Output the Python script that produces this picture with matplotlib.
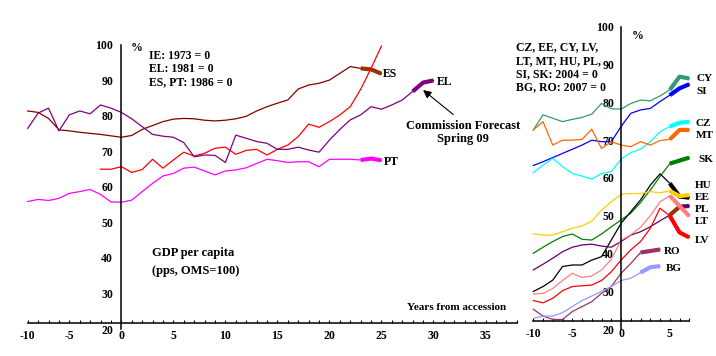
import numpy as np
import matplotlib
matplotlib.use("Agg")
import matplotlib.pyplot as plt
from matplotlib.ticker import MultipleLocator

plt.rcParams['font.family'] = ['Liberation Serif', 'DejaVu Serif']
plt.rcParams['font.weight'] = 'bold'
plt.rcParams['font.size'] = 8.5

# ---- old members (years from accession, first point at -9 on the axis) ----
old_start = -9
ie_start = -2
es = [81.4, 81.0, 79.3, 76.1, 75.8, 75.4, 75.1, 74.8, 74.4, 74.0, 74.5, 76.2,
      77.3, 78.4, 79.1, 79.3, 79.2, 78.8, 78.6, 78.8, 79.2, 79.9, 81.4, 82.6,
      83.6, 84.5, 87.6, 88.7, 89.2, 90.1, 92.0, 93.9, 93.4, 93.1, 91.9]
ie = [65.0, 65.0, 65.7, 64.1, 64.9, 67.8, 65.3, 67.6, 69.8, 68.7, 69.5, 70.9,
      71.2, 69.2, 70.3, 70.6, 69.0, 70.6, 71.8, 74.2, 77.7, 76.8, 78.4, 80.3,
      82.6, 87.5, 93.4, 99.7]
el = [76.5, 80.8, 82.2, 75.8, 80.3, 81.4, 80.6, 83.1, 82.2, 81.0, 79.2, 77.0,
      74.8, 74.3, 74.0, 72.5, 68.5, 69.0, 68.9, 66.9, 74.6, 73.7, 72.8, 72.3,
      70.6, 70.6, 71.2, 70.4, 69.8, 73.2, 76.2, 78.9, 80.3, 82.6, 81.9, 83.1,
      84.5, 86.9, 89.4, 90.0]
pt = [55.9, 56.5, 56.2, 56.8, 58.2, 58.7, 59.3, 57.9, 55.8, 55.7, 56.3, 58.7,
      61.0, 63.1, 63.8, 65.3, 65.6, 64.5, 63.4, 64.5, 64.8, 65.4, 66.6, 67.8,
      67.4, 66.9, 67.1, 67.1, 65.7, 67.8, 67.8, 67.8, 67.6, 68.0, 67.5]

# ---- new members ----
new_start = -9
cy = [72.7, 76.7, 75.8, 74.9, 75.5, 76.0, 76.9, 79.7, 78.3, 78.2, 79.7, 80.6, 80.4, 81.7, 83.3, 86.8, 86.3]
si = [63.3, 64.3, 65.4, 66.5, 67.6, 68.7, 70.0, 69.6, 69.6, 73.6, 77.1, 78.0, 78.4, 80.2, 81.9, 83.7, 84.8]
cz = [61.4, 63.4, 65.2, 63.0, 61.2, 60.5, 59.7, 61.2, 61.7, 65.0, 66.7, 67.6, 69.6, 72.2, 73.6, 74.6, 74.9]
mt = [72.7, 74.9, 68.7, 70.0, 70.0, 70.2, 72.9, 67.8, 69.6, 68.7, 68.3, 69.6, 68.7, 69.9, 70.2, 72.7, 72.7]
sk = [40.1, 41.7, 43.2, 44.5, 45.2, 43.8, 43.6, 45.2, 47.1, 48.9, 50.7, 53.5, 56.8, 60.4, 63.8, 64.6, 65.4]
hu = [30.0, 31.3, 33.0, 36.6, 37.0, 37.0, 38.3, 39.2, 43.6, 48.0, 51.1, 54.2, 58.1, 61.1, 58.6, 55.1, 54.8]
ee = [45.2, 44.9, 44.9, 45.8, 46.7, 47.3, 48.6, 51.5, 53.7, 55.7, 55.9, 55.9, 56.4, 56.1, 56.6, 55.2, 55.5]
pl = [35.7, 37.2, 38.8, 40.5, 41.7, 42.3, 42.5, 42.0, 41.7, 43.2, 44.9, 45.8, 47.1, 48.7, 50.2, 52.4, 52.6]
lt = [29.3, 29.5, 30.8, 32.9, 34.8, 33.7, 34.1, 35.7, 38.5, 43.5, 45.0, 47.0, 50.0, 53.7, 55.3, 52.6, 49.9]
lv = [27.6, 27.0, 28.2, 30.2, 31.3, 31.5, 31.7, 32.9, 35.2, 38.3, 41.0, 43.2, 46.7, 52.0, 50.0, 45.6, 44.3]
ro = [25.3, 23.5, 22.6, 22.6, 24.7, 26.0, 27.3, 29.5, 31.3, 34.8, 37.4, 40.3, 40.7, 41.1]
bg = [22.9, 23.5, 23.5, 24.4, 26.0, 27.6, 28.8, 30.0, 31.3, 32.9, 33.5, 35.0, 36.4, 36.7]

left_ticks = [-9, -5, 0, 5, 10, 15, 20, 25, 30, 35]
left_ticklabels = ['-10', '-5', '0', '5', '10', '15', '20', '25', '30', '35']
right_ticks = [-9, -5, 0, 5]
right_ticklabels = ['-10', '-5', '0', '5']
y_ticks = [20, 30, 40, 50, 60, 70, 80, 90, 100]

N_FC = 3  # last points = Commission forecast (thick)


def draw(ax, start, vals, color, thick=None, n_fc=N_FC):
    x = np.arange(start, start + len(vals))
    ax.plot(x, vals, color=color, lw=0.9, clip_on=False)
    if n_fc:
        ax.plot(x[-n_fc:], vals[-n_fc:], color=thick or color, lw=3,
                solid_capstyle='butt', clip_on=False)
    return x


def style_axes(ax, xlim, ticks, labels, xaxis_y, ypad):
    ax.set_xlim(*xlim)
    ax.set_ylim(20, 100)
    ax.patch.set_alpha(0)
    ax.spines['top'].set_visible(False)
    ax.spines['right'].set_visible(False)
    ax.spines['left'].set_position(('data', 0))
    ax.spines['bottom'].set_position(('data', xaxis_y))
    for s in ('left', 'bottom'):
        ax.spines[s].set_linewidth(1.1)
    ax.set_xticks(ticks)
    ax.set_xticklabels(labels)
    ax.xaxis.set_minor_locator(MultipleLocator(1))
    ax.tick_params(axis='x', which='both', direction='in', length=2.5, width=0.8, pad=5)
    ax.set_yticks(y_ticks)
    ax.tick_params(axis='y', length=0, pad=ypad)


fig = plt.figure(figsize=(7.16, 3.56), dpi=100)
fig.patch.set_facecolor('white')

# ------------------------------------------------------------ left panel
ax1 = fig.add_axes([0.0387, 0.0758, 0.683, 0.798])
style_axes(ax1, (-9, 38), left_ticks, left_ticklabels, 21.6, 6)

draw(ax1, old_start, es, '#800000', thick='#993300')
draw(ax1, ie_start, ie, '#ff0000', n_fc=0)
draw(ax1, old_start, el, '#800080')
draw(ax1, old_start, pt, '#ff00ff')

ax1.text(1.45, 99.1, '%', ha='center', va='center')
ax1.text(2.7, 96.9, 'IE: 1973 = 0', va='center')
ax1.text(2.7, 93.2, 'EL: 1981 = 0', va='center')
ax1.text(2.7, 89.4, 'ES, PT: 1986 = 0', va='center')
ax1.text(2.9, 41.5, 'GDP per capita', va='center', fontsize=9)
ax1.text(2.9, 36.4, '(pps, OMS=100)', va='center', fontsize=9)
ax1.text(37.0, 26.1, 'Years from accession', ha='right', va='center', fontsize=8)

ax1.text(25.1, 91.8, 'ES', va='center')
ax1.text(30.3, 89.5, 'EL', va='center')
ax1.text(25.2, 67.0, 'PT', va='center')

ax1.text(32.8, 75.3, 'Commission Forecast\nSpring 09', ha='center', va='center',
         fontsize=9, linespacing=1.15)
ax1.annotate('', xy=(29.0, 87.3), xytext=(31.9, 80.4),
             arrowprops=dict(arrowstyle='-|>', color='black', lw=0.8,
                             mutation_scale=12, shrinkA=0, shrinkB=0))

# ------------------------------------------------------------ right panel
ax2 = fig.add_axes([0.7448, 0.075, 0.2179, 0.850])
style_axes(ax2, (-9, 7), right_ticks, right_ticklabels, 22.3, 5)

draw(ax2, new_start, cy, '#339977')
draw(ax2, new_start, si, '#0000ff')
draw(ax2, new_start, cz, '#00ffff')
draw(ax2, new_start, mt, '#ff6600')
draw(ax2, new_start, sk, '#008000')
draw(ax2, new_start, hu, '#000000')
draw(ax2, new_start, ee, '#ffcc00')
xpl = draw(ax2, new_start, pl, '#660066', n_fc=0)
ax2.plot(xpl[-3:-1], pl[-3:-1], color='#993300', lw=3, solid_capstyle='butt', clip_on=False)
ax2.plot(xpl[-2:], pl[-2:], color='#660066', lw=3, solid_capstyle='butt', clip_on=False)
draw(ax2, new_start, lt, '#ff8080')
draw(ax2, new_start, lv, '#ff0000')
draw(ax2, new_start, ro, '#993366')
draw(ax2, new_start, bg, '#9999ff')

ax2.text(1.75, 97.5, '%', ha='center', va='center')
notes = ['CZ, EE, CY, LV,', 'LT, MT, HU, PL,', 'SI, SK: 2004 = 0', 'BG, RO: 2007 = 0']
for note, yv in zip(notes, [94.7, 91.0, 87.5, 84.1]):
    ax2.text(-10.75, yv, note, va='center', clip_on=False)

end_labels = {'CY': (7.75, 86.2), 'SI': (7.75, 83.0), 'CZ': (7.65, 74.5),
              'MT': (7.65, 71.3), 'SK': (7.9, 64.8), 'HU': (7.6, 57.9),
              'EE': (7.6, 54.9), 'PL': (7.6, 51.8), 'LT': (7.6, 48.6),
              'LV': (7.6, 43.6), 'RO': (4.4, 40.5), 'BG': (4.6, 36.1)}
for name, (xv, yv) in end_labels.items():
    ax2.text(xv, yv, name, va='center', fontsize=8, clip_on=False)

fig.savefig('out.png', dpi=100)
